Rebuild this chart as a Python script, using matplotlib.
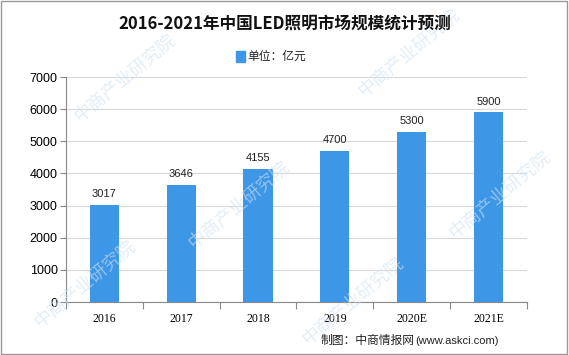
import matplotlib
matplotlib.use("Agg")
import matplotlib.pyplot as plt
from matplotlib.patches import Rectangle

plt.rcParams['font.family'] = ['Noto Sans CJK SC', 'DejaVu Sans']

years = ["2016", "2017", "2018", "2019", "2020E", "2021E"]
values = [3017, 3646, 4155, 4700, 5300, 5900]
yticks = [0, 1000, 2000, 3000, 4000, 5000, 6000, 7000]

bar_color = '#3d96e6'

fig = plt.figure(figsize=(5.69, 3.55), dpi=100)
ax = fig.add_axes([0.116, 0.149, 0.81, 0.634])

x = list(range(len(years)))
ax.bar(x, values, width=0.38, color=bar_color, zorder=3)
for xi, v in zip(x, values):
    ax.text(xi, v + 180, str(v), ha='center', va='bottom', fontsize=8,
            family=['Liberation Sans'], color='#222222', zorder=4)

ax.set_xlim(-0.5, len(years) - 0.5)
ax.set_ylim(0, 7000)
ax.set_yticks(yticks)
ax.set_yticklabels([str(t) for t in yticks], family=['Liberation Sans'], fontsize=9)
# category boundaries get the tick marks, labels sit in the middle
ax.set_xticks([i - 0.5 for i in range(len(years) + 1)])
ax.set_xticklabels([])
ax.set_xticks(x, minor=True)
ax.set_xticklabels(years, minor=True, family=['Liberation Serif'], fontsize=8.5)
ax.tick_params(axis='x', which='minor', length=0, pad=8)
ax.tick_params(axis='x', which='major', length=5, color='#888888')
ax.tick_params(axis='y', length=4, color='#888888', pad=2)
ax.yaxis.grid(True, color='#d9d9d9', linewidth=0.8, zorder=0)
for s in ['top', 'right']:
    ax.spines[s].set_visible(False)
ax.spines['left'].set_color('#888888')
ax.spines['bottom'].set_color('#888888')

# title and legend
fig.text(0.5, 0.935, "2016-2021年中国LED照明市场规模统计预测", ha='center', va='center',
         fontsize=12, fontweight='bold', color='#111111')
fig.patches.append(Rectangle((0.414, 0.825), 0.017, 0.03, transform=fig.transFigure,
                             color=bar_color))
fig.text(0.434, 0.84, "单位：亿元", ha='left', va='center', fontsize=8.5, color='#222222')

# footer
fig.text(0.728, 0.04, "制图：中商情报网", ha='right', va='center', fontsize=8.5, color='#222222')
fig.text(0.73, 0.04, "(www.askci.com)", ha='left', va='center', fontsize=8,
         family=['Liberation Sans'], color='#222222')

# watermarks
for wx, wy in [(0.22, 0.78), (0.42, 0.42), (0.72, 0.85), (0.88, 0.45), (0.15, 0.2), (0.62, 0.15)]:
    fig.text(wx, wy, "中商产业研究院", ha='center', va='center', fontsize=13,
             rotation=40, color='#cfe2f3', alpha=0.6, zorder=0)

# outer border
fig.patches.append(Rectangle((0.002, 0.003), 0.995, 0.994, transform=fig.transFigure,
                             fill=False, edgecolor='#999999', linewidth=1))

fig.savefig("out.png", dpi=100)
